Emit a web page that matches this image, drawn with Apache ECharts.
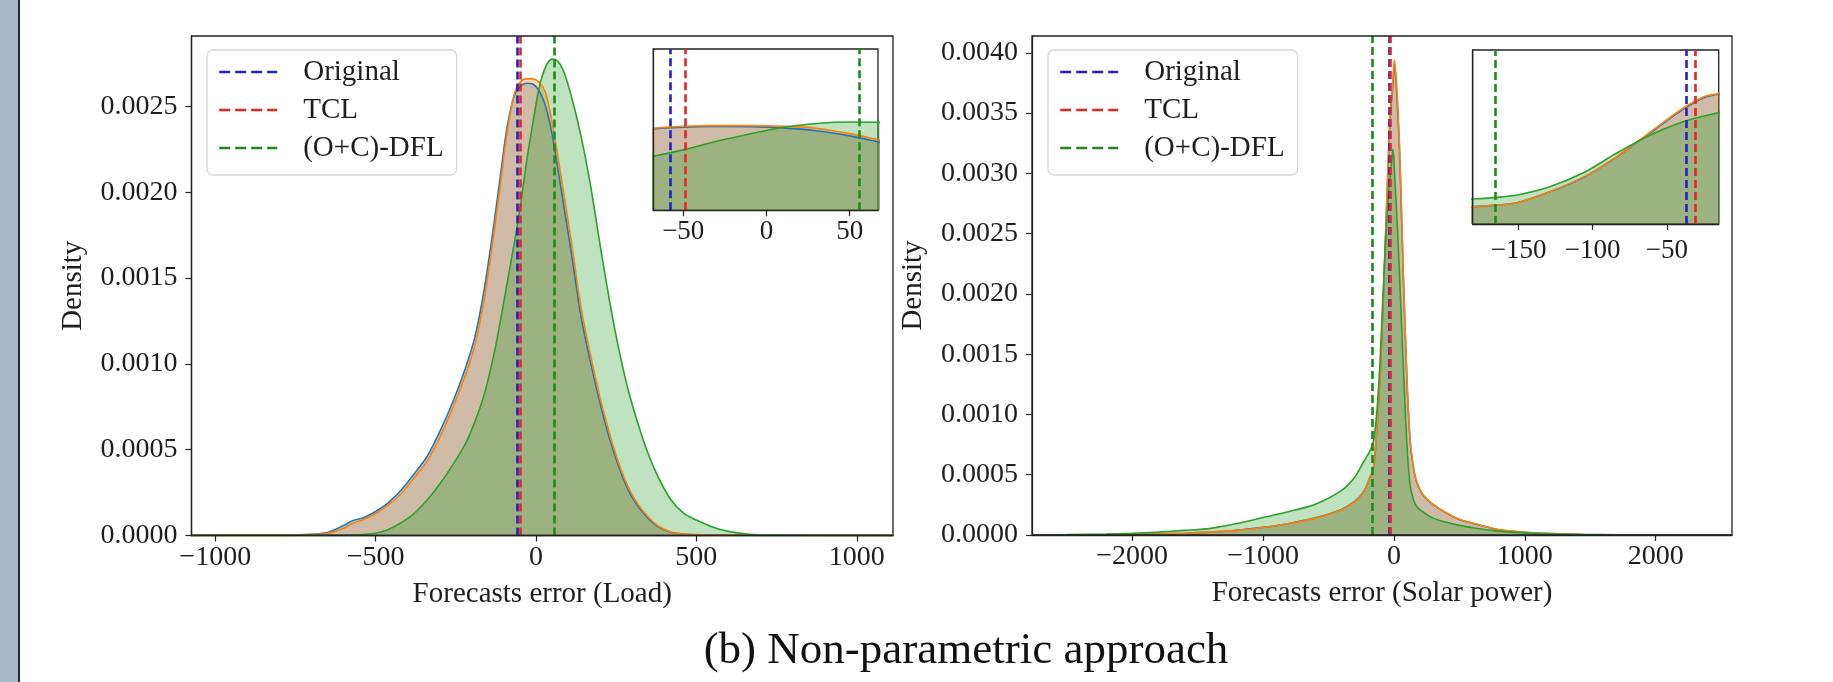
<!DOCTYPE html>
<html><head><meta charset="utf-8">
<script src="https://cdn.jsdelivr.net/npm/echarts@6/dist/echarts.min.js"></script>
<style>html,body{margin:0;padding:0;background:#fff}#c{width:1833px;height:682px}</style>
</head><body><div id="c"></div>
<script>
// ---------- DATA ----------
const SERIES_NAMES = ['Original', 'TCL', '(O+C)-DFL'];
const CAPTION = '(b) Non-parametric approach';

// Load panel: KDE of forecast error (x) and density (y)
const LOAD_X = [-1075,-1000,-900,-800,-700,-650,-600,-570,-540,-500,-460,-420,-380,-340,-300,-260,-220,-190,-160,-130,-110,-90,-68,-50,-30,-10,10,30,50,67,85,110,140,170,200,230,260,290,320,350,380,420,460,500,550,600,650,700,800,900,1000,1110];
const LOAD_ORIGINAL = [0,0.000003,0.000004,0.000004,0.000007,0.000018,0.000058,0.000088,0.000102,0.000140,0.000192,0.000265,0.000358,0.000459,0.000605,0.000775,0.000975,0.001160,0.001450,0.001830,0.002110,0.002380,0.002560,0.002615,0.002635,0.002630,0.002590,0.002500,0.002340,0.002150,0.001940,0.001650,0.001280,0.001010,0.000769,0.000560,0.000390,0.000255,0.000165,0.000100,0.000052,0.000019,0.000008,0.000004,0.000003,0.000002,0.000002,0.000001,0.000001,0.000001,0.000001,0];
const LOAD_TCL = [0,0.000003,0.000004,0.000004,0.000006,0.000012,0.000042,0.000072,0.000092,0.000128,0.000178,0.000245,0.000335,0.000432,0.000572,0.000742,0.000935,0.001115,0.001395,0.001775,0.002060,0.002350,0.002570,0.002640,0.002660,0.002660,0.002640,0.002580,0.002410,0.002220,0.002010,0.001715,0.001330,0.001050,0.000800,0.000588,0.000410,0.000272,0.000176,0.000108,0.000057,0.000021,0.000009,0.000005,0.000003,0.000002,0.000002,0.000001,0.000001,0.000001,0.000001,0];
const LOAD_DFL = [0,0.000001,0.000001,0.000001,0.000002,0.000002,0.000003,0.000004,0.000006,0.000013,0.000035,0.000075,0.000128,0.000205,0.000300,0.000410,0.000535,0.000665,0.000830,0.001065,0.001260,0.001470,0.001700,0.001900,0.002170,0.002400,0.002610,0.002730,0.002775,0.002765,0.002710,0.002560,0.002330,0.002040,0.001690,0.001360,0.001070,0.000830,0.000640,0.000475,0.000345,0.000210,0.000130,0.000090,0.000050,0.000024,0.000010,0.000004,0.000002,0.000001,0.000001,0];
const LOAD_MEANS = [-58, -49, 56];

// Solar panel
const SOLAR_X = [-2765,-2500,-2200,-2000,-1800,-1600,-1400,-1200,-1000,-800,-600,-400,-300,-230,-181,-165,-151,-129,-106,-84,-61,-39,-25,-15,-8,0,5,15,30,47,72,98,123,150,175,225,300,400,500,650,800,1000,1200,1450,1700,2000,2300,2583];
const SOLAR_ORIGINAL = [0,0.000001,0.000003,0.000006,0.000010,0.000015,0.000024,0.000039,0.000063,0.000096,0.000142,0.000212,0.000278,0.000362,0.000482,0.000528,0.000595,0.000900,0.001310,0.001870,0.002560,0.003210,0.003530,0.003640,0.003740,0.003860,0.003880,0.003780,0.003500,0.003060,0.002150,0.001330,0.000795,0.000555,0.000436,0.000327,0.000252,0.000182,0.000128,0.000083,0.000044,0.000022,0.000011,0.000004,0.000002,0.000001,0.000001,0];
const SOLAR_TCL = [0,0.000001,0.000003,0.000006,0.000010,0.000015,0.000024,0.000038,0.000062,0.000095,0.000140,0.000210,0.000275,0.000360,0.000484,0.000530,0.000597,0.000905,0.001320,0.001880,0.002580,0.003240,0.003560,0.003660,0.003780,0.003900,0.003940,0.003820,0.003550,0.003100,0.002170,0.001340,0.000800,0.000560,0.000440,0.000330,0.000255,0.000185,0.000130,0.000085,0.000045,0.000023,0.000011,0.000004,0.000002,0.000001,0.000001,0];
const SOLAR_DFL = [0,0.000003,0.000008,0.000014,0.000024,0.000038,0.000055,0.000095,0.000145,0.000195,0.000255,0.000370,0.000480,0.000610,0.000700,0.000745,0.000810,0.001040,0.001440,0.001980,0.002490,0.002860,0.003020,0.003120,0.003200,0.003120,0.003000,0.002800,0.002480,0.002050,0.001400,0.000780,0.000420,0.000290,0.000235,0.000190,0.000140,0.000105,0.000080,0.000052,0.000032,0.000018,0.000009,0.000004,0.000002,0.000001,0,0];
const SOLAR_MEANS = [-37, -31, -166];

// Tick labels
const LOAD_XTICKS = [-1000, -500, 0, 500, 1000];
const LOAD_YTICKS = [0, 0.0005, 0.0010, 0.0015, 0.0020, 0.0025];
const SOLAR_XTICKS = [-2000, -1000, 0, 1000, 2000];
const SOLAR_YTICKS = [0, 0.0005, 0.0010, 0.0015, 0.0020, 0.0025, 0.0030, 0.0035, 0.0040];
const LOAD_INSET_XTICKS = [-50, 0, 50];
const SOLAR_INSET_XTICKS = [-150, -100, -50];

// Axis extents
const LOAD_XRANGE = [-1074, 1113], LOAD_YRANGE = [0, 0.00291];
const SOLAR_XRANGE = [-2765, 2583], SOLAR_YRANGE = [0, 0.00414];
const LOAD_INSET_XRANGE = [-68, 67], LOAD_INSET_YRANGE = [0, 0.00507];
const SOLAR_INSET_XRANGE = [-181, -15], SOLAR_INSET_YRANGE = [0, 0.00487];

// ---------- STYLE ----------
const FONT = 'Liberation Serif';
const TXT = '#1e1e1e';
const KDE_COLORS = ['#1f77b4', '#ff7f0e', '#2ca02c'];
const VLINE_COLORS = ['#2222c4', '#e82424', '#1b8c1b'];

const fmtX = v => (v < 0 ? '\u2212' + Math.abs(v) : String(v));
const fmtY = v => v.toFixed(4);

function xAxis(gi, range, ticks, name, opts) {
  return Object.assign({
    gridIndex: gi, type: 'value', min: range[0], max: range[1],
    axisLine: { show: true, onZero: false, lineStyle: { color: '#222', width: 1.3 } },
    axisTick: { show: true, length: 6, customValues: ticks, lineStyle: { color: '#222', width: 1.2 } },
    axisLabel: { customValues: ticks, formatter: fmtX, fontSize: 28, fontFamily: FONT, color: TXT, margin: 8 },
    splitLine: { show: false },
    name: name, nameLocation: 'middle', nameGap: 44,
    nameTextStyle: { fontSize: 29, fontFamily: FONT, color: TXT },
    z: 5
  }, opts || {});
}
function yAxis(gi, range, ticks, opts) {
  return Object.assign({
    gridIndex: gi, type: 'value', min: range[0], max: range[1],
    axisLine: { show: true, onZero: false, lineStyle: { color: '#222', width: 1.3 } },
    axisTick: { show: true, length: 6, customValues: ticks, lineStyle: { color: '#222', width: 1.2 } },
    axisLabel: { customValues: ticks, formatter: fmtY, fontSize: 28, fontFamily: FONT, color: TXT, margin: 14 },
    splitLine: { show: false },
    name: 'Density', nameLocation: 'middle', nameGap: 104,
    nameTextStyle: { fontSize: 29, fontFamily: FONT, color: TXT },
    z: 5
  }, opts || {});
}

function kde(name, xs, ys, ci, gi, z) {
  return {
    type: 'line', name: name, xAxisIndex: gi, yAxisIndex: gi, silent: true,
    data: xs.map((x, i) => [x, ys[i]]), smooth: 0.3, symbol: 'none', z: z,
    lineStyle: { color: KDE_COLORS[ci], width: 1.6 },
    areaStyle: { color: KDE_COLORS[ci], opacity: 0.3 }
  };
}
function vline(i, mean, gi, z) {
  const ls = { color: VLINE_COLORS[i], type: [8, 4], width: 2.6 };
  return {
    type: 'line', name: SERIES_NAMES[i], xAxisIndex: gi, yAxisIndex: gi, silent: true,
    data: [[mean, 0]], symbol: 'none', z: z, lineStyle: ls,
    itemStyle: { color: VLINE_COLORS[i] },
    markLine: { silent: true, z: z, symbol: ['none', 'none'], label: { show: false }, lineStyle: ls,
                animation: false, data: [{ xAxis: mean }] }
  };
}
function panel(gi, xs, arrays, means, z) {
  const s = [];
  arrays.forEach((ys, i) => s.push(kde(SERIES_NAMES[i] + ' kde', xs, ys, i, gi, z)));
  means.forEach((m, i) => s.push(vline(i, m, gi, z + 1)));
  return s;
}

const legendBase = {
  data: SERIES_NAMES, orient: 'vertical', top: 50, z: 8,
  itemWidth: 58, itemHeight: 12, itemGap: 8,
  padding: [7, 13, 12, 11],
  backgroundColor: 'rgba(255,255,255,0.85)', borderColor: '#d9d9d9', borderWidth: 1.3, borderRadius: 6,
  textStyle: { fontFamily: FONT, fontSize: 29, color: TXT, lineHeight: 30, padding: [0, 0, 0, 21] },
  lineStyle: { type: [11, 5], width: 2.4 },
  itemStyle: { opacity: 0 },
  selectedMode: false
};

const option = {
  animation: false,
  backgroundColor: '#fff',
  grid: [
    { left: 191.5, top: 36, width: 701.5, height: 499.5, show: true, backgroundColor: 'transparent', borderColor: '#222', borderWidth: 1.3, z: 5 },
    { left: 1032, top: 36, width: 700, height: 499, show: true, backgroundColor: 'transparent', borderColor: '#222', borderWidth: 1.3, z: 5 },
    { left: 653.3, top: 49, width: 224.7, height: 161.3, show: true, backgroundColor: '#fff', borderColor: '#222', borderWidth: 1.3, z: 10 },
    { left: 1472.7, top: 50, width: 246, height: 174, show: true, backgroundColor: '#fff', borderColor: '#222', borderWidth: 1.3, z: 10 }
  ],
  xAxis: [
    xAxis(0, LOAD_XRANGE, LOAD_XTICKS, 'Forecasts error (Load)'),
    xAxis(1, SOLAR_XRANGE, SOLAR_XTICKS, 'Forecasts error (Solar power)'),
    xAxis(2, LOAD_INSET_XRANGE, LOAD_INSET_XTICKS, '', { z: 14, axisLabel: { customValues: LOAD_INSET_XTICKS, formatter: fmtX, fontSize: 27, fontFamily: FONT, color: TXT, margin: 8 } }),
    xAxis(3, SOLAR_INSET_XRANGE, SOLAR_INSET_XTICKS, '', { z: 14, axisLabel: { customValues: SOLAR_INSET_XTICKS, formatter: fmtX, fontSize: 27, fontFamily: FONT, color: TXT, margin: 13 } })
  ],
  yAxis: [
    yAxis(0, LOAD_YRANGE, LOAD_YTICKS),
    yAxis(1, SOLAR_YRANGE, SOLAR_YTICKS),
    yAxis(2, LOAD_INSET_YRANGE, [], { name: '', z: 14, axisTick: { show: false }, axisLabel: { show: false } }),
    yAxis(3, SOLAR_INSET_YRANGE, [], { name: '', z: 14, axisTick: { show: false }, axisLabel: { show: false } })
  ],
  legend: [
    Object.assign({}, legendBase, { left: 207 }),
    Object.assign({}, legendBase, { left: 1048 })
  ],
  series: [].concat(
    panel(0, LOAD_X, [LOAD_ORIGINAL, LOAD_TCL, LOAD_DFL], LOAD_MEANS, 2),
    panel(1, SOLAR_X, [SOLAR_ORIGINAL, SOLAR_TCL, SOLAR_DFL], SOLAR_MEANS, 2),
    panel(2, LOAD_X, [LOAD_ORIGINAL, LOAD_TCL, LOAD_DFL], LOAD_MEANS, 11),
    panel(3, SOLAR_X, [SOLAR_ORIGINAL, SOLAR_TCL, SOLAR_DFL], SOLAR_MEANS, 11)
  ),
  graphic: [
    { type: 'rect', shape: { x: 0, y: 0, width: 18, height: 682 }, style: { fill: '#a7b8c8' }, silent: true },
    { type: 'rect', shape: { x: 18, y: 0, width: 2, height: 682 }, style: { fill: '#2a2a2a' }, silent: true },
    { type: 'text', x: 966, y: 651, silent: true,
      style: { text: CAPTION, fontSize: 45, fontFamily: FONT, fill: '#111', align: 'center', verticalAlign: 'middle' } }
  ]
};

const chart = echarts.init(document.getElementById('c'), null, { renderer: 'canvas' });
chart.setOption(option);
</script>
</body></html>
